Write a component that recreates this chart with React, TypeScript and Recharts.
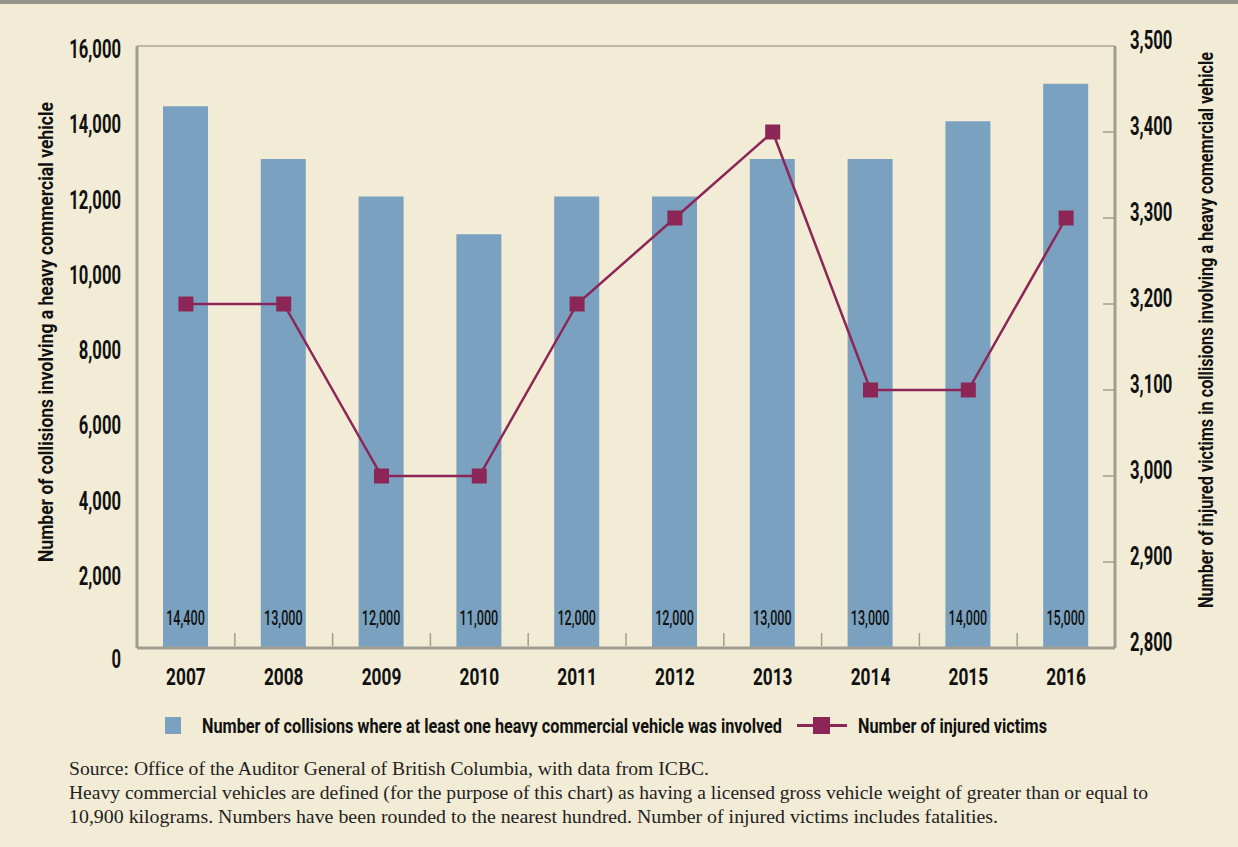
import React from 'react';
import {
  ComposedChart,
  Bar,
  Line,
  XAxis,
  YAxis,
  CartesianGrid,
  LabelList
} from 'recharts';

const YEARS = ['2007', '2008', '2009', '2010', '2011', '2012', '2013', '2014', '2015', '2016'];
const COLLISIONS = [14400, 13000, 12000, 11000, 12000, 12000, 13000, 13000, 14000, 15000];
const INJURED = [3200, 3200, 3000, 3000, 3200, 3300, 3400, 3100, 3100, 3300];
const LEFT_TICKS = [0, 2000, 4000, 6000, 8000, 10000, 12000, 14000, 16000];
const RIGHT_TICKS = [2800, 2900, 3000, 3100, 3200, 3300, 3400, 3500];

const LEFT_TITLE = 'Number of collisions involving a heavy commercial vehicle';
const RIGHT_TITLE = 'Number of injured victims in collisions involving a heavy comemrcial vehicle';
const LEGEND_BARS = 'Number of collisions where at least one heavy commercial vehicle was involved';
const LEGEND_LINE = 'Number of injured victims';
const NOTES = [
  'Source: Office of the Auditor General of British Columbia, with data from ICBC.',
  'Heavy commercial vehicles are defined (for the purpose of this chart) as having a licensed gross vehicle weight of greater than or equal to',
  '10,900 kilograms. Numbers have been rounded to the nearest hundred. Number of injured victims includes fatalities.'
];

const BG = '#f2ecd6';
const BAR_COLOR = '#7aa2c0';
const LINE_COLOR = '#8b2657';
const AXIS_COLOR = '#a09e92';
const GRID_COLOR = '#aaa696';
const FONT = 'Roboto, "Liberation Sans", sans-serif';
const SERIF = '"Liberation Serif", "DejaVu Serif", serif';

const data = YEARS.map((year, i) => ({
  year,
  collisions: COLLISIONS[i],
  injured: INJURED[i]
}));

const fmt = (v: number) => v.toLocaleString('en-US');

// narrow text: no condensed face installed, so squeeze horizontally
const CText = ({ x, y, size, sx, anchor = 'middle', weight = 700, children }: any) => (
  <text
    transform={`translate(${x},${y}) scale(${sx},1)`}
    textAnchor={anchor}
    dy="0.355em"
    fontFamily={FONT}
    fontSize={size}
    fontWeight={weight}
    fill="#111"
  >
    {children}
  </text>
);

const YearTick = (props: any) => {
  const { x, y, payload } = props;
  const half = payload.offset || 0;
  return (
    <g>
      <line x1={x - half} x2={x - half} y1={y - 10} y2={y - 23} stroke={AXIS_COLOR} strokeWidth={1.5} />
      <CText x={x} y={y + 20} size={24} sx={0.72}>{payload.value}</CText>
    </g>
  );
};

const RightTick = (props: any) => {
  const { x, y, payload } = props;
  const axisX = x - 15;
  return (
    <g>
      {payload.value !== 2800 && payload.value !== 3500 && (
        <line x1={axisX - 12} x2={axisX} y1={y} y2={y} stroke={AXIS_COLOR} strokeWidth={1.5} />
      )}
      <CText x={x} y={y - 6} size={26} sx={0.64} anchor="start">{fmt(payload.value)}</CText>
    </g>
  );
};

const LeftTick = (props: any) => {
  const { x, y, payload } = props;
  return (
    <CText x={x} y={y + (payload.value === 0 ? 11 : 3)} size={26} sx={0.64} anchor="end">
      {fmt(payload.value)}
    </CText>
  );
};

const SquareDot = (props: any) => {
  const { cx, cy } = props;
  if (cx == null || cy == null) return null;
  return <rect x={cx - 7.5} y={cy - 7.5} width={15} height={15} fill={LINE_COLOR} />;
};

const BarValue = (props: any) => {
  const { x, y, width, height, value } = props;
  return (
    <CText x={x + width / 2} y={y + height - 30} size={21} sx={0.6} weight={500}>
      {fmt(value)}
    </CText>
  );
};

export default function App() {
  return (
    <div style={{ position: 'absolute', left: 0, top: 0, width: 1238, height: 847, background: BG, overflow: 'hidden' }}>
      <div style={{ position: 'absolute', left: 0, top: 0, width: 1238, height: 4, background: '#96948a' }} />
      <div style={{ position: 'absolute', left: 0, top: 0 }}>
        <ComposedChart width={1238} height={700} data={data} margin={{ top: 46, right: 0, left: 0, bottom: 0 }}>
          <CartesianGrid vertical={false} stroke={GRID_COLOR} strokeWidth={1.5} />
          <XAxis
            dataKey="year"
            height={52}
            tickLine={false}
            axisLine={{ stroke: AXIS_COLOR, strokeWidth: 3 }}
            tick={<YearTick />}
            interval={0}
          />
          <YAxis
            yAxisId="left"
            width={137}
            domain={[0, 16000]}
            ticks={LEFT_TICKS}
            tickLine={false}
            tickSize={0}
            tickMargin={16}
            axisLine={{ stroke: AXIS_COLOR, strokeWidth: 3 }}
            tick={<LeftTick />}
          />
          <YAxis
            yAxisId="right"
            orientation="right"
            width={123}
            domain={[2800, 3500]}
            ticks={RIGHT_TICKS}
            tickLine={false}
            tickSize={0}
            tickMargin={15}
            axisLine={{ stroke: AXIS_COLOR, strokeWidth: 3 }}
            tick={<RightTick />}
          />
          <Bar yAxisId="left" dataKey="collisions" fill={BAR_COLOR} barSize={45} isAnimationActive={false}>
            <LabelList dataKey="collisions" content={<BarValue />} />
          </Bar>
          <Line
            yAxisId="right"
            dataKey="injured"
            type="linear"
            stroke={LINE_COLOR}
            strokeWidth={2.5}
            dot={<SquareDot />}
            activeDot={false}
            isAnimationActive={false}
          />
        </ComposedChart>
      </div>

      <svg width={1238} height={847} style={{ position: 'absolute', left: 0, top: 0, pointerEvents: 'none' }}>
        {/* axis titles */}
        <text
          transform="translate(53,332) rotate(-90)"
          textAnchor="middle"
          fontFamily={FONT}
          fontWeight={700}
          fontSize={20}
          fill="#111"
          textLength={460}
          lengthAdjust="spacingAndGlyphs"
        >
          {LEFT_TITLE}
        </text>
        <text
          transform="translate(1213,330) rotate(-90)"
          textAnchor="middle"
          fontFamily={FONT}
          fontWeight={700}
          fontSize={20}
          fill="#111"
          textLength={556}
          lengthAdjust="spacingAndGlyphs"
        >
          {RIGHT_TITLE}
        </text>

        {/* legend */}
        <rect x={165} y={717} width={16} height={17} fill={BAR_COLOR} />
        <text x={202} y={733} fontFamily={FONT} fontWeight={700} fontSize={21} fill="#111" textLength={580} lengthAdjust="spacingAndGlyphs">
          {LEGEND_BARS}
        </text>
        <line x1={797} x2={847} y1={725.5} y2={725.5} stroke={LINE_COLOR} strokeWidth={3} />
        <rect x={813} y={717} width={17} height={17} fill={LINE_COLOR} />
        <text x={858} y={733} fontFamily={FONT} fontWeight={700} fontSize={21} fill="#111" textLength={189} lengthAdjust="spacingAndGlyphs">
          {LEGEND_LINE}
        </text>

        {/* footnotes */}
        {NOTES.map((line, i) => (
          <text
            key={i}
            x={69}
            y={775 + i * 24}
            fontFamily={SERIF}
            fontSize={18}
            fill="#222"
            textLength={[640, 1079, 929][i]}
            lengthAdjust="spacingAndGlyphs"
          >
            {line}
          </text>
        ))}
      </svg>
    </div>
  );
}
